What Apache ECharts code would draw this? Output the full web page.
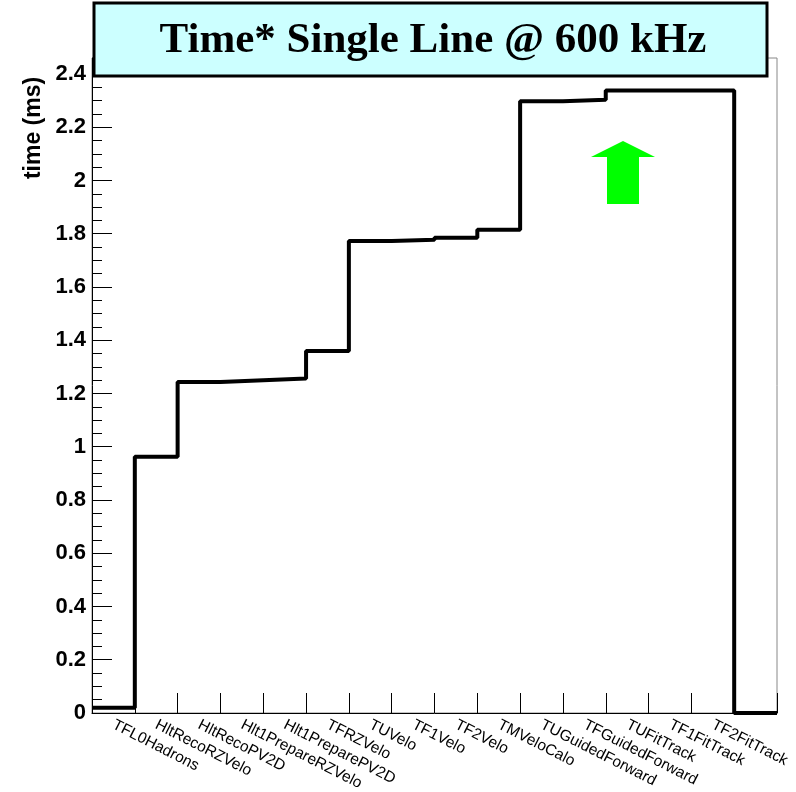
<!DOCTYPE html>
<html>
<head>
<meta charset="utf-8">
<script src="https://cdn.jsdelivr.net/npm/echarts@6/dist/echarts.min.js"></script>
<style>
html,body{margin:0;padding:0;background:#fff;}
#chart{width:796px;height:792px;}
</style>
</head>
<body>
<div id="chart"></div>
<script>
// Data
const categories = ['TFL0Hadrons','HltRecoRZVelo','HltRecoPV2D','Hlt1PrepareRZVelo','Hlt1PreparePV2D','TFRZVelo','TUVelo','TF1Velo','TF2Velo','TMVeloCalo','TUGuidedForward','TFGuidedForward','TUFitTrack','TF1FitTrack','TF2FitTrack',''];
const values = [0.02, 0.962, 1.243, 1.25, 1.256, 1.36, 1.773, 1.777, 1.785, 1.815, 2.298, 2.303, 2.338, 2.338, 2.338, 0];
const titleText = 'Time* Single Line @ 600 kHz';
const yAxisName = 'time (ms)';

// step points at bin edges
const stepData = values.map((v, i) => [i, v]);
stepData.push([values.length, values[values.length - 1]]);

const chart = echarts.init(document.getElementById('chart'), null, {renderer: 'canvas'});
const sans = 'Liberation Sans, Arial, Helvetica, sans-serif';
chart.setOption({
  animation: false,
  backgroundColor: '#ffffff',
  grid: {left: 92, right: 19, top: 58, bottom: 79, containLabel: false, outerBoundsMode: 'none',
         show: true, borderColor: '#888888', borderWidth: 1, backgroundColor: 'transparent'},
  xAxis: [
    {
      type: 'category',
      data: categories,
      boundaryGap: true,
      axisLine: {show: true, lineStyle: {color: '#000', width: 1}},
      axisTick: {show: true, inside: true, length: 20, interval: 0, lineStyle: {color: '#000', width: 1}},
      axisLabel: {interval: 0, rotate: -27, fontSize: 15.5, fontFamily: sans, color: '#000', margin: 11, hideOverlap: false},
      splitLine: {show: false}
    },
    {
      type: 'value', min: 0, max: categories.length, show: false
    }
  ],
  yAxis: {
    type: 'value',
    min: 0, max: 2.46, interval: 0.2,
    axisLine: {show: true, lineStyle: {color: '#000', width: 1}},
    axisTick: {show: true, inside: true, length: 20, lineStyle: {color: '#000', width: 1}},
    minorTick: {show: true, splitNumber: 4, length: 10, lineStyle: {color: '#000', width: 1}},
    axisLabel: {
      showMaxLabel: false, fontSize: 22, fontWeight: 'bold', fontFamily: sans, color: '#000', margin: 6,
      formatter: v => String(Number(v.toFixed(2)))
    },
    splitLine: {show: false}
  },
  series: [{
    type: 'line',
    xAxisIndex: 1,
    step: 'end',
    data: stepData,
    symbol: 'none',
    lineStyle: {color: '#000', width: 4},
    clip: false,
    z: 5
  }],
  graphic: [
    {
      type: 'rect', z: 100,
      shape: {x: 94, y: 3, width: 673, height: 73},
      style: {fill: '#ccffff', stroke: '#000', lineWidth: 3}
    },
    {
      type: 'text', z: 101,
      x: 433, y: 41,
      style: {text: titleText, fill: '#000', font: 'bold 43px "Liberation Serif", "Times New Roman", serif', textAlign: 'center', textVerticalAlign: 'middle'}
    },
    {
      type: 'text', z: 101,
      x: 34, y: 128, rotation: Math.PI / 2,
      style: {text: yAxisName, fill: '#000', font: 'bold 23px "Liberation Sans", Arial, sans-serif', textAlign: 'center', textVerticalAlign: 'middle'}
    },
    {
      type: 'polygon', z: 50,
      shape: {points: [[623,141],[655,157],[639,157],[639,204],[607,204],[607,157],[591,157]]},
      style: {fill: '#00ff00'}
    }
  ]
});
</script>
</body>
</html>
